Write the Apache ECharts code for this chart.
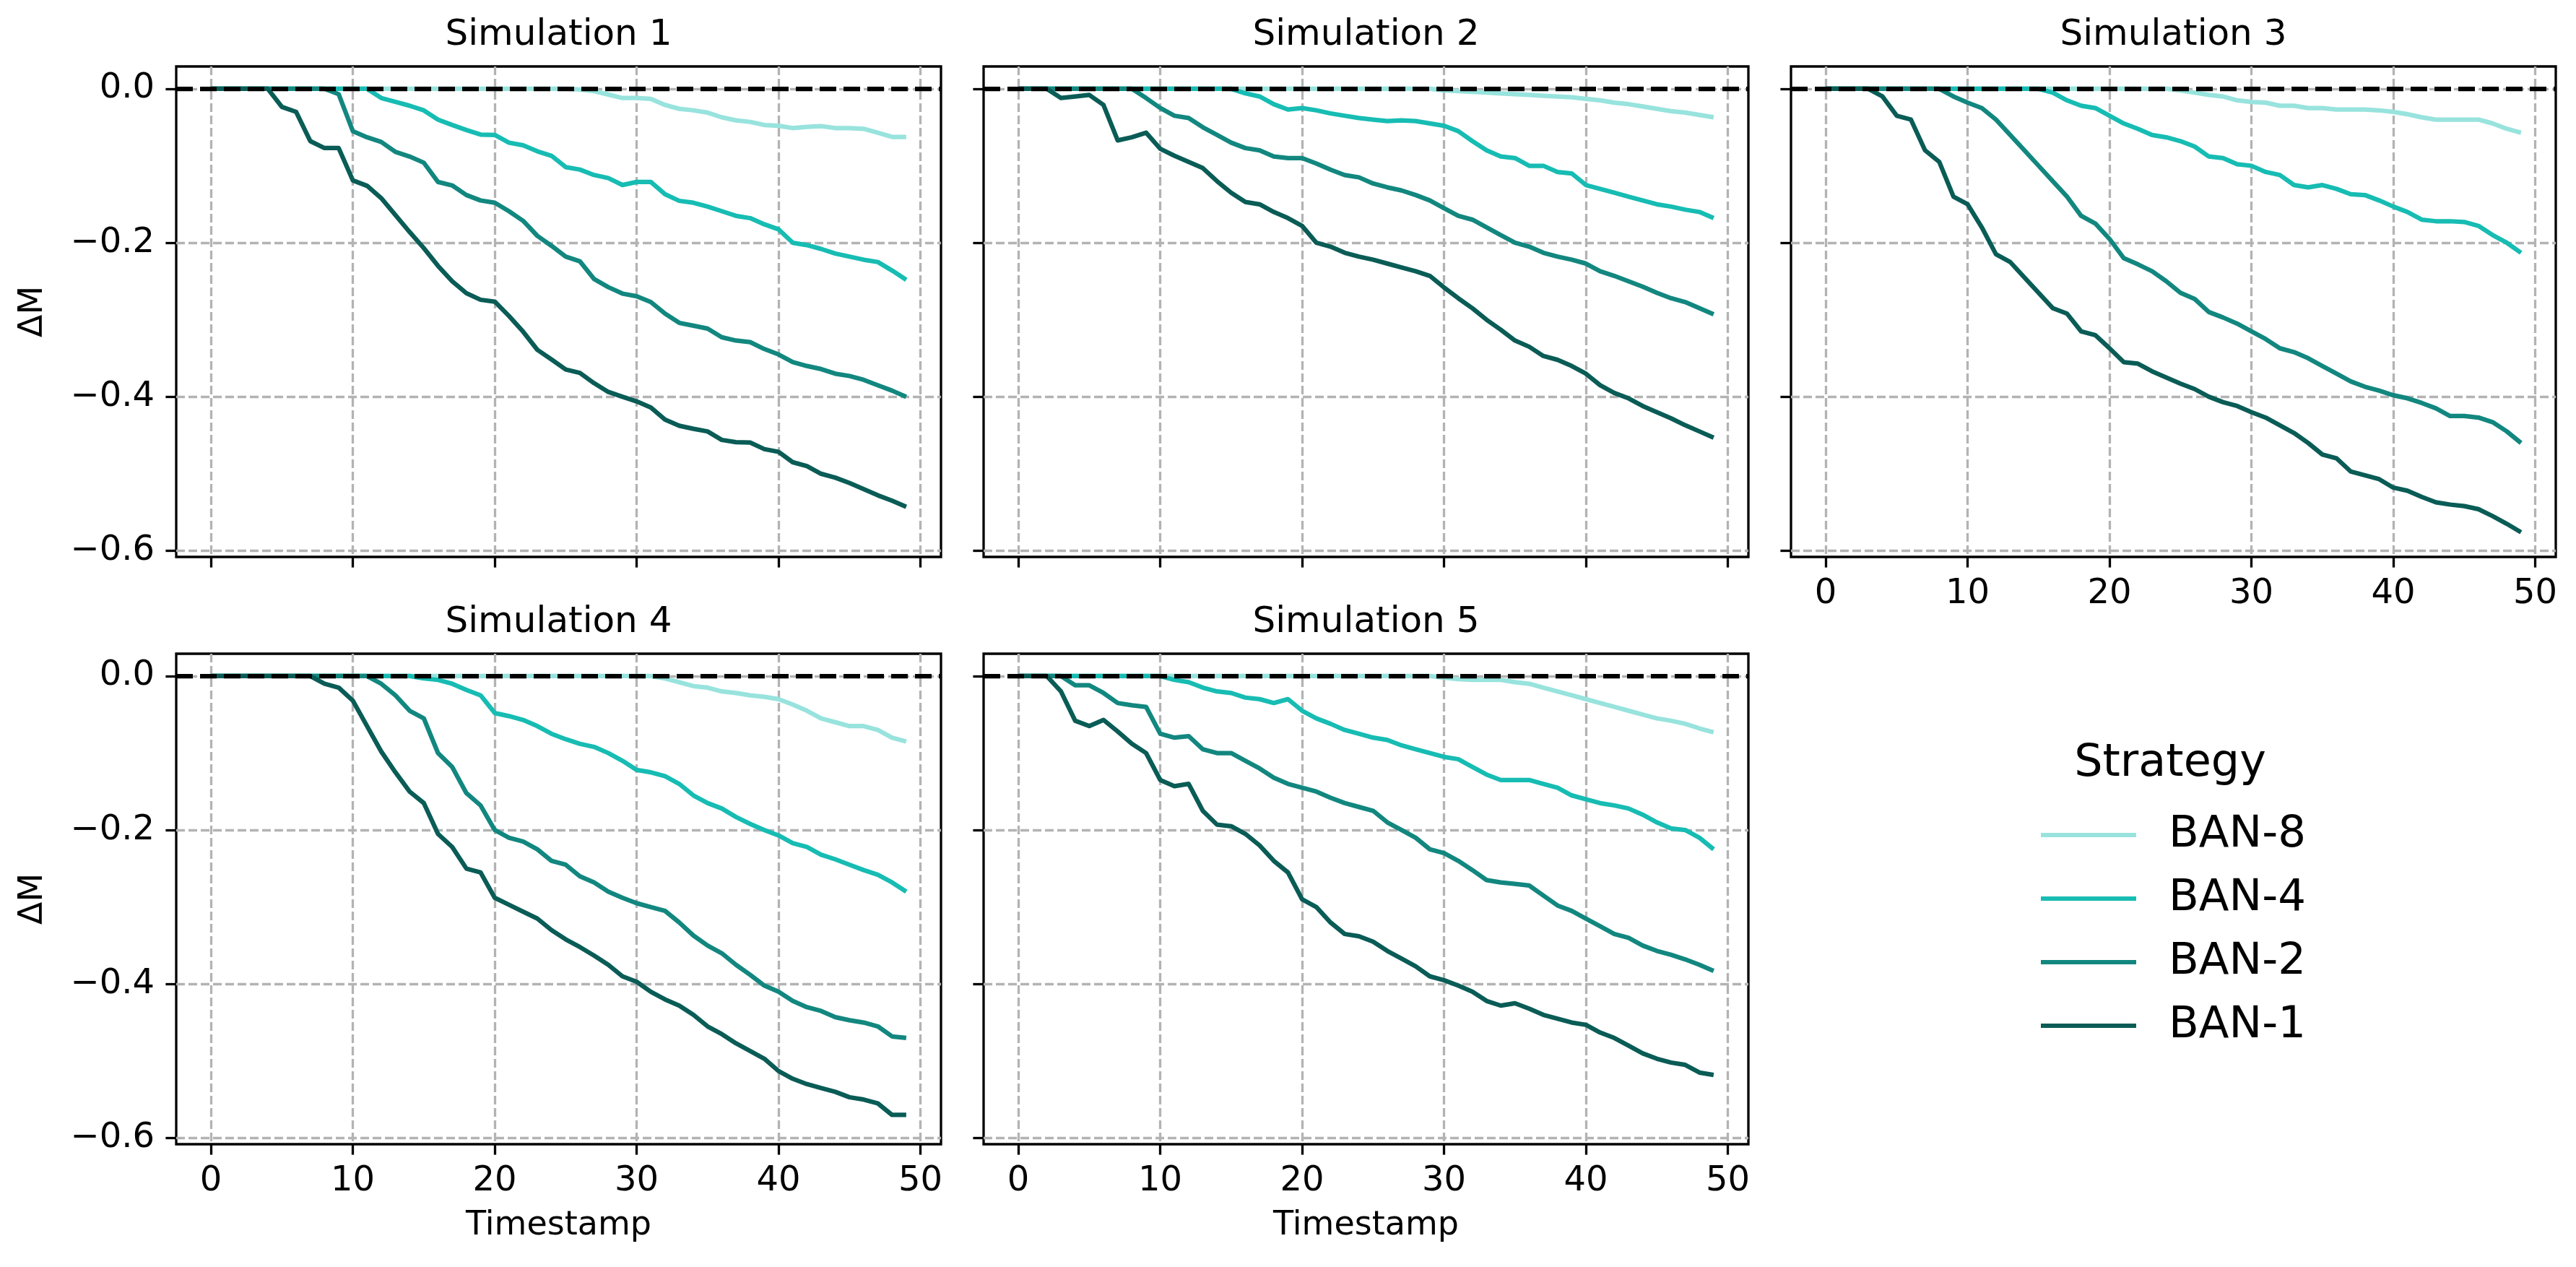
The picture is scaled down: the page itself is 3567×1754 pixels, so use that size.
<!DOCTYPE html>
<html><head><meta charset="utf-8">
<script src="https://cdn.jsdelivr.net/npm/echarts@6/dist/echarts.min.js"></script>
<style>html,body{margin:0;padding:0;background:#fff}#c{width:3567px;height:1754px}</style>
</head><body><div id="c"></div>
<script>
const timestamps = [0,1,2,3,4,5,6,7,8,9,10,11,12,13,14,15,16,17,18,19,20,21,22,23,24,25,26,27,28,29,30,31,32,33,34,35,36,37,38,39,40,41,42,43,44,45,46,47,48,49];
const strategies = ['BAN-8','BAN-4','BAN-2','BAN-1'];
const simTitles = ['Simulation 1','Simulation 2','Simulation 3','Simulation 4','Simulation 5'];
const xTicks = [0,10,20,30,40,50];
const yTicks = [-0.6,-0.4,-0.2,0];

const sim1_ban8 = [0,0,0,0,0,0,0,0,0,0,0,0,0,0,0,0,0,0,0,0,0,0,0,0,0,0,-0.001,-0.003,-0.0075,-0.012,-0.012,-0.013,-0.021,-0.026,-0.028,-0.031,-0.037,-0.041,-0.043,-0.047,-0.048,-0.051,-0.0495,-0.0485,-0.051,-0.051,-0.052,-0.057,-0.0625,-0.0625];
const sim1_ban4 = [0,0,0,0,0,0,0,0,0,0,0,0,-0.012,-0.017,-0.022,-0.028,-0.04,-0.047,-0.0535,-0.0595,-0.06,-0.07,-0.0734,-0.0812,-0.087,-0.1017,-0.1049,-0.112,-0.116,-0.125,-0.121,-0.121,-0.137,-0.1455,-0.148,-0.153,-0.159,-0.165,-0.168,-0.176,-0.1825,-0.2,-0.203,-0.208,-0.214,-0.218,-0.222,-0.225,-0.236,-0.248];
const sim1_ban2 = [0,0,0,0,0,0,0,0,0,-0.007,-0.055,-0.063,-0.069,-0.082,-0.088,-0.096,-0.121,-0.1255,-0.138,-0.145,-0.148,-0.159,-0.1715,-0.191,-0.204,-0.218,-0.224,-0.247,-0.2576,-0.266,-0.2695,-0.277,-0.292,-0.304,-0.3077,-0.3114,-0.3227,-0.327,-0.329,-0.338,-0.345,-0.355,-0.36,-0.364,-0.37,-0.373,-0.378,-0.385,-0.392,-0.4];
const sim1_ban1 = [0,0,0,0,0,-0.0235,-0.03,-0.068,-0.077,-0.077,-0.119,-0.126,-0.142,-0.164,-0.186,-0.207,-0.23,-0.25,-0.2654,-0.274,-0.2764,-0.295,-0.3155,-0.339,-0.3515,-0.3646,-0.369,-0.3823,-0.3937,-0.4,-0.406,-0.414,-0.4297,-0.4376,-0.4416,-0.445,-0.456,-0.4589,-0.4595,-0.468,-0.4715,-0.485,-0.49,-0.5,-0.505,-0.512,-0.52,-0.528,-0.535,-0.543];

const sim2_ban8 = [0,0,0,0,0,0,0,0,0,0,0,0,0,0,0,0,0,0,0,0,0,0,0,0,0,0,0,0,0,0,-0.002,-0.003,-0.004,-0.005,-0.006,-0.007,-0.008,-0.009,-0.01,-0.011,-0.013,-0.015,-0.018,-0.02,-0.023,-0.026,-0.029,-0.031,-0.034,-0.037];
const sim2_ban4 = [0,0,0,0,0,0,0,0,0,0,0,0,0,0,0,0,-0.006,-0.01,-0.02,-0.027,-0.025,-0.028,-0.032,-0.035,-0.038,-0.04,-0.042,-0.041,-0.042,-0.045,-0.048,-0.055,-0.068,-0.08,-0.088,-0.09,-0.1,-0.1,-0.108,-0.11,-0.125,-0.13,-0.135,-0.14,-0.145,-0.15,-0.153,-0.157,-0.16,-0.168];
const sim2_ban2 = [0,0,0,0,0,0,0,0,0,-0.012,-0.025,-0.035,-0.038,-0.05,-0.06,-0.07,-0.077,-0.08,-0.088,-0.09,-0.09,-0.097,-0.105,-0.112,-0.115,-0.123,-0.128,-0.132,-0.138,-0.145,-0.155,-0.165,-0.17,-0.18,-0.19,-0.2,-0.205,-0.213,-0.218,-0.222,-0.227,-0.237,-0.243,-0.25,-0.257,-0.265,-0.272,-0.277,-0.285,-0.293];
const sim2_ban1 = [0,0,0,-0.012,-0.01,-0.008,-0.021,-0.067,-0.063,-0.057,-0.078,-0.087,-0.095,-0.103,-0.12,-0.135,-0.147,-0.15,-0.16,-0.168,-0.178,-0.2,-0.205,-0.213,-0.218,-0.222,-0.227,-0.232,-0.237,-0.243,-0.258,-0.272,-0.285,-0.3,-0.313,-0.327,-0.335,-0.347,-0.352,-0.36,-0.37,-0.385,-0.395,-0.402,-0.412,-0.42,-0.428,-0.437,-0.445,-0.453];

const sim3_ban8 = [0,0,0,0,0,0,0,0,0,0,0,0,0,0,0,0,0,0,0,0,0,0,0,0,0,-0.002,-0.005,-0.008,-0.01,-0.015,-0.017,-0.018,-0.022,-0.022,-0.025,-0.025,-0.027,-0.027,-0.027,-0.028,-0.03,-0.033,-0.037,-0.04,-0.04,-0.04,-0.04,-0.045,-0.052,-0.057];
const sim3_ban4 = [0,0,0,0,0,0,0,0,0,0,0,0,0,0,0,0,-0.005,-0.015,-0.022,-0.025,-0.035,-0.045,-0.052,-0.06,-0.063,-0.068,-0.075,-0.088,-0.09,-0.098,-0.1,-0.108,-0.112,-0.125,-0.128,-0.125,-0.13,-0.137,-0.138,-0.145,-0.153,-0.16,-0.17,-0.172,-0.172,-0.173,-0.178,-0.19,-0.2,-0.213];
const sim3_ban2 = [0,0,0,0,0,0,0,0,0,-0.01,-0.018,-0.025,-0.04,-0.06,-0.08,-0.1,-0.12,-0.14,-0.165,-0.175,-0.195,-0.22,-0.228,-0.237,-0.25,-0.265,-0.273,-0.29,-0.297,-0.305,-0.315,-0.325,-0.337,-0.342,-0.35,-0.36,-0.37,-0.38,-0.387,-0.392,-0.398,-0.402,-0.408,-0.415,-0.425,-0.425,-0.427,-0.433,-0.445,-0.46];
const sim3_ban1 = [0,0,0,0,-0.01,-0.035,-0.04,-0.08,-0.095,-0.14,-0.15,-0.18,-0.215,-0.225,-0.245,-0.265,-0.285,-0.292,-0.315,-0.32,-0.337,-0.355,-0.357,-0.367,-0.375,-0.383,-0.39,-0.4,-0.407,-0.412,-0.42,-0.427,-0.437,-0.447,-0.46,-0.475,-0.48,-0.497,-0.502,-0.507,-0.518,-0.522,-0.53,-0.537,-0.54,-0.542,-0.546,-0.555,-0.565,-0.576];

const sim4_ban8 = [0,0,0,0,0,0,0,0,0,0,0,0,0,0,0,0,0,0,0,0,0,0,0,0,0,0,0,0,0,0,0,0,-0.003,-0.008,-0.013,-0.015,-0.02,-0.022,-0.025,-0.027,-0.03,-0.037,-0.045,-0.055,-0.06,-0.065,-0.065,-0.07,-0.08,-0.085];
const sim4_ban4 = [0,0,0,0,0,0,0,0,0,0,0,0,0,0,0,-0.003,-0.005,-0.01,-0.018,-0.025,-0.048,-0.052,-0.057,-0.065,-0.075,-0.082,-0.088,-0.092,-0.1,-0.11,-0.122,-0.125,-0.13,-0.14,-0.155,-0.165,-0.172,-0.183,-0.192,-0.2,-0.207,-0.217,-0.222,-0.232,-0.238,-0.245,-0.252,-0.258,-0.268,-0.28];
const sim4_ban2 = [0,0,0,0,0,0,0,0,0,0,0,0,-0.01,-0.025,-0.045,-0.055,-0.1,-0.118,-0.152,-0.168,-0.2,-0.21,-0.215,-0.225,-0.24,-0.245,-0.26,-0.268,-0.28,-0.288,-0.295,-0.3,-0.305,-0.32,-0.337,-0.35,-0.36,-0.375,-0.388,-0.402,-0.41,-0.422,-0.43,-0.435,-0.443,-0.447,-0.45,-0.455,-0.468,-0.47];
const sim4_ban1 = [0,0,0,0,0,0,0,0,-0.01,-0.015,-0.032,-0.065,-0.098,-0.125,-0.15,-0.165,-0.205,-0.222,-0.25,-0.255,-0.288,-0.297,-0.306,-0.315,-0.33,-0.342,-0.352,-0.363,-0.375,-0.39,-0.397,-0.41,-0.42,-0.428,-0.44,-0.455,-0.465,-0.477,-0.487,-0.497,-0.513,-0.523,-0.53,-0.535,-0.54,-0.547,-0.55,-0.555,-0.57,-0.57];

const sim5_ban8 = [0,0,0,0,0,0,0,0,0,0,0,0,0,0,0,0,0,0,0,0,0,0,0,0,0,0,0,0,0,0,-0.002,-0.004,-0.005,-0.005,-0.005,-0.008,-0.01,-0.015,-0.02,-0.025,-0.03,-0.035,-0.04,-0.045,-0.05,-0.055,-0.058,-0.062,-0.068,-0.073];
const sim5_ban4 = [0,0,0,0,0,0,0,0,0,0,0,-0.005,-0.008,-0.015,-0.02,-0.022,-0.028,-0.03,-0.035,-0.03,-0.045,-0.055,-0.062,-0.07,-0.075,-0.08,-0.083,-0.09,-0.095,-0.1,-0.105,-0.108,-0.118,-0.128,-0.135,-0.135,-0.135,-0.14,-0.145,-0.155,-0.16,-0.165,-0.168,-0.172,-0.18,-0.19,-0.198,-0.2,-0.21,-0.225];
const sim5_ban2 = [0,0,0,0,-0.012,-0.012,-0.022,-0.035,-0.038,-0.04,-0.075,-0.08,-0.078,-0.095,-0.1,-0.1,-0.11,-0.12,-0.132,-0.14,-0.145,-0.15,-0.158,-0.165,-0.17,-0.175,-0.19,-0.2,-0.21,-0.225,-0.23,-0.24,-0.252,-0.265,-0.268,-0.27,-0.272,-0.285,-0.298,-0.305,-0.315,-0.325,-0.335,-0.34,-0.35,-0.357,-0.362,-0.368,-0.375,-0.383];
const sim5_ban1 = [0,0,0,-0.02,-0.058,-0.065,-0.057,-0.072,-0.088,-0.1,-0.135,-0.143,-0.14,-0.175,-0.193,-0.195,-0.205,-0.22,-0.24,-0.255,-0.29,-0.3,-0.32,-0.335,-0.338,-0.345,-0.357,-0.367,-0.377,-0.39,-0.395,-0.402,-0.41,-0.422,-0.428,-0.425,-0.432,-0.44,-0.445,-0.45,-0.453,-0.463,-0.47,-0.48,-0.49,-0.497,-0.502,-0.505,-0.515,-0.518];

const simData = [
  [sim1_ban8, sim1_ban4, sim1_ban2, sim1_ban1],
  [sim2_ban8, sim2_ban4, sim2_ban2, sim2_ban1],
  [sim3_ban8, sim3_ban4, sim3_ban2, sim3_ban1],
  [sim4_ban8, sim4_ban4, sim4_ban2, sim4_ban1],
  [sim5_ban8, sim5_ban4, sim5_ban2, sim5_ban1]
];

const colors = ['#98e3dd', '#17bcb3', '#12877f', '#0a5c56'];
const FONT = 'DejaVu Sans';
const W = 1059, H = 679;
const gridPos = [[244, 92], [1362, 92], [2480, 92], [244, 905], [1362, 905]];
const showXLabel = [false, false, true, true, true];
const showYLabel = [true, false, false, true, false];

function fmtY(v) {
  const s = Math.abs(v).toFixed(1);
  return (v < -1e-9 ? '\u2212' : '') + s;
}

const grids = [], xAxes = [], yAxes = [], series = [], graphics = [];
gridPos.forEach((p, i) => {
  grids.push({ left: p[0], top: p[1], width: W, height: H, show: true, borderColor: '#000', borderWidth: 3.3, backgroundColor: 'rgba(0,0,0,0)', containLabel: false });
  xAxes.push({
    type: 'value', gridIndex: i, min: -2.45, max: 51.45, position: 'bottom',
    axisLine: { show: false, onZero: false },
    axisTick: { show: true, inside: false, length: 14.6, lineStyle: { color: '#000', width: 3.3 }, customValues: xTicks },
    axisLabel: { show: showXLabel[i], customValues: xTicks, margin: 28, fontSize: 48, color: '#000', fontFamily: FONT },
    splitLine: { show: true, lineStyle: { color: '#b3b3b3', width: 3.3, type: [12, 5] } }
  });
  yAxes.push({
    type: 'value', gridIndex: i, min: -0.608, max: 0.029, position: 'left',
    axisLine: { show: false, onZero: false },
    axisTick: { show: true, inside: false, length: 14.6, lineStyle: { color: '#000', width: 3.3 }, customValues: yTicks },
    axisLabel: { show: showYLabel[i], customValues: yTicks, margin: 30, fontSize: 48, color: '#000', fontFamily: FONT, formatter: fmtY },
    splitLine: { show: true, lineStyle: { color: '#b3b3b3', width: 3.3, type: [12, 5] } }
  });
  strategies.forEach((name, k) => {
    const arr = simData[i][k];
    const s = {
      type: 'line', name: name, xAxisIndex: i, yAxisIndex: i,
      data: timestamps.map((t, j) => [t, arr[j]]),
      symbol: 'none', showSymbol: false, animation: false, z: 2 + k * 0.01,
      lineStyle: { color: colors[k], width: 6.25, cap: 'butt', join: 'round' },
      itemStyle: { color: colors[k] },
      emphasis: { disabled: true }
    };
    if (k === 3) {
      s.markLine = {
        silent: true, symbol: 'none', animation: false, z: 10,
        label: { show: false },
        lineStyle: { color: '#000', type: [23, 10], width: 6.25 },
        emphasis: { disabled: true },
        data: [{ yAxis: 0 }]
      };
    }
    series.push(s);
  });
  const cx = p[0] + W / 2;
  graphics.push({ type: 'text', x: cx, y: p[1] - 43, style: { text: simTitles[i], font: '50px "' + FONT + '"', fill: '#000', textAlign: 'center', textVerticalAlign: 'middle' } });
  if (showYLabel[i]) {
    graphics.push({ type: 'text', x: 46, y: p[1] + H / 2, rotation: Math.PI / 2, style: { text: '\u0394M', font: '46px "' + FONT + '"', fill: '#000', textAlign: 'center', textVerticalAlign: 'middle' } });
  }
  if (i >= 3) {
    graphics.push({ type: 'text', x: cx, y: 1697, style: { text: 'Timestamp', font: '46px "' + FONT + '"', fill: '#000', textAlign: 'center', textVerticalAlign: 'middle' } });
  }
});
graphics.push({ type: 'text', x: 3005, y: 1058, style: { text: 'Strategy', font: '62px "' + FONT + '"', fill: '#000', textAlign: 'center', textVerticalAlign: 'middle' } });

const chart = echarts.init(document.getElementById('c'), null, { renderer: 'canvas' });
chart.setOption({
  animation: false,
  backgroundColor: '#fff',
  grid: grids, xAxis: xAxes, yAxis: yAxes, series: series,
  legend: {
    data: strategies, orient: 'vertical', left: 2821, top: 1116,
    itemWidth: 132, itemHeight: 6, itemGap: 18, icon: 'rect', selectedMode: false,
    textStyle: { fontSize: 61, fontFamily: FONT, color: '#000', lineHeight: 70, padding: [0, 0, 0, 40] }
  },
  graphic: graphics
});
</script></body></html>
